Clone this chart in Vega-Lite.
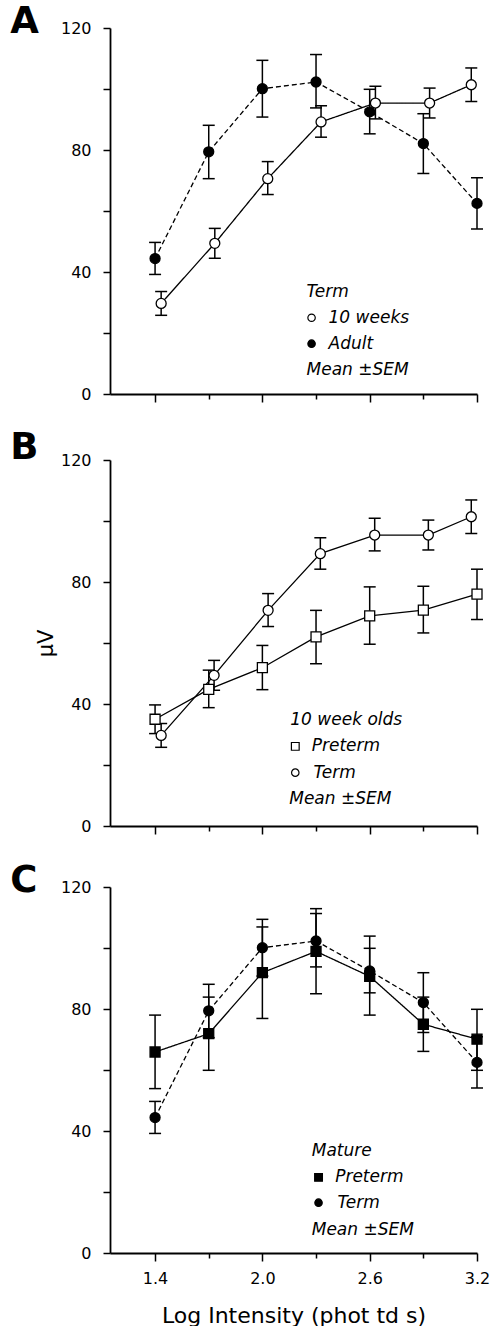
{
  "$schema": "https://vega.github.io/schema/vega-lite/v6.json",
  "background": "white",
  "padding": {"left": 10, "top": 3, "right": 0, "bottom": 0},
  "spacing": 26,
  "datasets": {
    "erg": [
      {"panel": "A", "group": "10 weeks", "x": 1.434, "y": 29.7, "lo": 25.8, "hi": 33.6},
      {"panel": "A", "group": "10 weeks", "x": 1.734, "y": 49.4, "lo": 44.5, "hi": 54.3},
      {"panel": "A", "group": "10 weeks", "x": 2.030, "y": 70.6, "lo": 65.4, "hi": 76.2},
      {"panel": "A", "group": "10 weeks", "x": 2.328, "y": 89.2, "lo": 84.2, "hi": 94.5},
      {"panel": "A", "group": "10 weeks", "x": 2.632, "y": 95.4, "lo": 90.2, "hi": 100.9},
      {"panel": "A", "group": "10 weeks", "x": 2.935, "y": 95.4, "lo": 90.5, "hi": 100.3},
      {"panel": "A", "group": "10 weeks", "x": 3.168, "y": 101.4, "lo": 95.9, "hi": 106.9},
      {"panel": "A", "group": "Adult", "x": 1.4, "y": 44.4, "lo": 39.2, "hi": 49.7},
      {"panel": "A", "group": "Adult", "x": 1.7, "y": 79.4, "lo": 70.6, "hi": 88.1},
      {"panel": "A", "group": "Adult", "x": 2.0, "y": 100.1, "lo": 90.8, "hi": 109.4},
      {"panel": "A", "group": "Adult", "x": 2.3, "y": 102.3, "lo": 93.8, "hi": 111.3},
      {"panel": "A", "group": "Adult", "x": 2.6, "y": 92.5, "lo": 85.3, "hi": 99.9},
      {"panel": "A", "group": "Adult", "x": 2.9, "y": 82.1, "lo": 72.3, "hi": 91.9},
      {"panel": "A", "group": "Adult", "x": 3.2, "y": 62.5, "lo": 54.1, "hi": 70.9},
      {"panel": "B", "group": "Preterm", "x": 1.4, "y": 35.0, "lo": 30.3, "hi": 39.7},
      {"panel": "B", "group": "Preterm", "x": 1.7, "y": 44.8, "lo": 38.8, "hi": 51.1},
      {"panel": "B", "group": "Preterm", "x": 2.0, "y": 51.9, "lo": 44.7, "hi": 59.2},
      {"panel": "B", "group": "Preterm", "x": 2.3, "y": 62.0, "lo": 53.2, "hi": 70.7},
      {"panel": "B", "group": "Preterm", "x": 2.6, "y": 68.9, "lo": 59.6, "hi": 78.4},
      {"panel": "B", "group": "Preterm", "x": 2.9, "y": 70.8, "lo": 63.3, "hi": 78.6},
      {"panel": "B", "group": "Preterm", "x": 3.2, "y": 76.0, "lo": 67.7, "hi": 84.2},
      {"panel": "B", "group": "Term", "x": 1.434, "y": 29.7, "lo": 25.8, "hi": 33.6},
      {"panel": "B", "group": "Term", "x": 1.730, "y": 49.4, "lo": 44.5, "hi": 54.3},
      {"panel": "B", "group": "Term", "x": 2.032, "y": 70.7, "lo": 65.4, "hi": 76.2},
      {"panel": "B", "group": "Term", "x": 2.324, "y": 89.3, "lo": 84.2, "hi": 94.5},
      {"panel": "B", "group": "Term", "x": 2.628, "y": 95.4, "lo": 90.2, "hi": 100.9},
      {"panel": "B", "group": "Term", "x": 2.928, "y": 95.4, "lo": 90.5, "hi": 100.3},
      {"panel": "B", "group": "Term", "x": 3.168, "y": 101.4, "lo": 95.9, "hi": 106.9},
      {"panel": "C", "group": "Preterm", "x": 1.4, "y": 65.9, "lo": 53.9, "hi": 78.0},
      {"panel": "C", "group": "Preterm", "x": 1.7, "y": 71.9, "lo": 59.9, "hi": 83.9},
      {"panel": "C", "group": "Preterm", "x": 2.0, "y": 91.9, "lo": 76.9, "hi": 106.9},
      {"panel": "C", "group": "Preterm", "x": 2.3, "y": 98.9, "lo": 85.0, "hi": 112.9},
      {"panel": "C", "group": "Preterm", "x": 2.6, "y": 90.7, "lo": 78.0, "hi": 103.9},
      {"panel": "C", "group": "Preterm", "x": 2.9, "y": 75.0, "lo": 66.1, "hi": 83.9},
      {"panel": "C", "group": "Preterm", "x": 3.2, "y": 70.1, "lo": 59.9, "hi": 79.9},
      {"panel": "C", "group": "Term", "x": 1.4, "y": 44.4, "lo": 39.2, "hi": 49.7},
      {"panel": "C", "group": "Term", "x": 1.7, "y": 79.4, "lo": 70.6, "hi": 88.1},
      {"panel": "C", "group": "Term", "x": 2.0, "y": 100.1, "lo": 90.8, "hi": 109.4},
      {"panel": "C", "group": "Term", "x": 2.3, "y": 102.3, "lo": 93.8, "hi": 111.3},
      {"panel": "C", "group": "Term", "x": 2.6, "y": 92.5, "lo": 85.3, "hi": 99.9},
      {"panel": "C", "group": "Term", "x": 2.9, "y": 82.1, "lo": 72.3, "hi": 91.9},
      {"panel": "C", "group": "Term", "x": 3.2, "y": 62.5, "lo": 54.1, "hi": 70.9}
    ]
  },
  "vconcat": [
    {
      "width": 367, "height": 366,
      "layer": [
        {"data": {"name": "erg"}, "transform": [{"filter": "datum.panel === 'A'"}],
         "mark": {"type": "rule", "color": "black", "strokeWidth": 1.5},
         "encoding": {
           "x": {"field": "x", "type": "quantitative", "scale": {"domain": [1.148, 3.2], "nice": false, "zero": false},
                 "axis": {"values": [1.4, 1.7, 2.0, 2.3, 2.6, 2.9, 3.2], "labels": false, "title": null, "tickSize": {"condition": {"test": "round((datum.value-1.4)/0.3) % 2 === 0", "value": 8}, "value": 5}}},
           "y": {"field": "lo", "type": "quantitative", "scale": {"domain": [0, 120], "nice": false},
                 "axis": {"values": [0, 20, 40, 60, 80, 100, 120], "labelExpr": "datum.value % 40 === 0 ? datum.label : ''", "tickSize": 7, "labelPadding": 12, "title": null}},
           "y2": {"field": "hi"}
         }},
        {"data": {"name": "erg"}, "transform": [{"filter": "datum.panel === 'A'"}],
         "mark": {"type": "tick", "orient": "horizontal", "size": 12, "thickness": 1.5, "color": "black", "opacity": 1},
         "encoding": {"x": {"field": "x", "type": "quantitative"}, "y": {"field": "lo", "type": "quantitative"}}},
        {"data": {"name": "erg"}, "transform": [{"filter": "datum.panel === 'A'"}],
         "mark": {"type": "tick", "orient": "horizontal", "size": 12, "thickness": 1.5, "color": "black", "opacity": 1},
         "encoding": {"x": {"field": "x", "type": "quantitative"}, "y": {"field": "hi", "type": "quantitative"}}},
        {"data": {"name": "erg"}, "transform": [{"filter": "datum.panel === 'A'"}],
         "mark": {"type": "line", "color": "black", "strokeWidth": 1.3},
         "encoding": {"x": {"field": "x", "type": "quantitative"}, "y": {"field": "y", "type": "quantitative"},
           "strokeDash": {"field": "group", "type": "nominal", "scale": {"domain": ["10 weeks", "Adult"], "range": [[1, 0], [5, 3]]}, "legend": null}}},
        {"data": {"name": "erg"}, "transform": [{"filter": "datum.panel === 'A'"}],
         "mark": {"type": "point", "filled": true, "stroke": "black", "strokeWidth": 1.3, "opacity": 1, "size": 100, "shape": "circle"},
         "encoding": {"x": {"field": "x", "type": "quantitative"}, "y": {"field": "y", "type": "quantitative"},
           "fill": {"field": "group", "type": "nominal", "scale": {"domain": ["10 weeks", "Adult"], "range": ["white", "black"]}, "legend": null}}},
        {"data": {"values": [{"label": "A"}]},
         "mark": {"type": "text", "align": "left", "baseline": "alphabetic", "font": "DejaVu Sans", "fontSize": 37, "fontWeight": "bold", "color": "black"},
         "encoding": {"x": {"datum": 0.59, "type": "quantitative"}, "y": {"datum": 118.36, "type": "quantitative"}, "text": {"field": "label"}}},
        {"data": {"values": [{"label": "Term"}]},
         "mark": {"type": "text", "align": "left", "baseline": "middle", "font": "DejaVu Sans", "fontSize": 17, "fontStyle": "italic", "color": "black"},
         "encoding": {"x": {"datum": 2.247, "type": "quantitative"}, "y": {"datum": 33.4, "type": "quantitative"}, "text": {"field": "label"}}},
        {"data": {"values": [{"label": "10 weeks"}]},
         "mark": {"type": "point", "filled": true, "fill": "white", "stroke": "black", "strokeWidth": 1.2, "opacity": 1, "size": 55, "shape": "circle"},
         "encoding": {"x": {"datum": 2.275, "type": "quantitative"}, "y": {"datum": 25.0, "type": "quantitative"}}},
        {"data": {"values": [{"label": "10 weeks"}]},
         "mark": {"type": "text", "align": "left", "baseline": "middle", "font": "DejaVu Sans", "fontSize": 17, "fontStyle": "italic", "color": "black"},
         "encoding": {"x": {"datum": 2.370, "type": "quantitative"}, "y": {"datum": 25.0, "type": "quantitative"}, "text": {"field": "label"}}},
        {"data": {"values": [{"label": "Adult"}]},
         "mark": {"type": "point", "filled": true, "fill": "black", "stroke": "black", "strokeWidth": 1.2, "opacity": 1, "size": 55, "shape": "circle"},
         "encoding": {"x": {"datum": 2.275, "type": "quantitative"}, "y": {"datum": 16.5, "type": "quantitative"}}},
        {"data": {"values": [{"label": "Adult"}]},
         "mark": {"type": "text", "align": "left", "baseline": "middle", "font": "DejaVu Sans", "fontSize": 17, "fontStyle": "italic", "color": "black"},
         "encoding": {"x": {"datum": 2.370, "type": "quantitative"}, "y": {"datum": 16.5, "type": "quantitative"}, "text": {"field": "label"}}},
        {"data": {"values": [{"label": "Mean ±SEM"}]},
         "mark": {"type": "text", "align": "left", "baseline": "middle", "font": "DejaVu Sans", "fontSize": 17, "fontStyle": "italic", "color": "black"},
         "encoding": {"x": {"datum": 2.247, "type": "quantitative"}, "y": {"datum": 7.9, "type": "quantitative"}, "text": {"field": "label"}}}
      ]
    },
    {
      "width": 367, "height": 366,
      "layer": [
        {"data": {"name": "erg"}, "transform": [{"filter": "datum.panel === 'B'"}],
         "mark": {"type": "rule", "color": "black", "strokeWidth": 1.5},
         "encoding": {
           "x": {"field": "x", "type": "quantitative", "scale": {"domain": [1.148, 3.2], "nice": false, "zero": false},
                 "axis": {"values": [1.4, 1.7, 2.0, 2.3, 2.6, 2.9, 3.2], "labels": false, "title": null, "tickSize": {"condition": {"test": "round((datum.value-1.4)/0.3) % 2 === 0", "value": 8}, "value": 5}}},
           "y": {"field": "lo", "type": "quantitative", "scale": {"domain": [0, 120], "nice": false},
                 "axis": {"values": [0, 20, 40, 60, 80, 100, 120], "labelExpr": "datum.value % 40 === 0 ? datum.label : ''", "tickSize": 7, "labelPadding": 12, "title": "μV", "titleFontSize": 21, "titlePadding": 4}},
           "y2": {"field": "hi"}
         }},
        {"data": {"name": "erg"}, "transform": [{"filter": "datum.panel === 'B'"}],
         "mark": {"type": "tick", "orient": "horizontal", "size": 12, "thickness": 1.5, "color": "black", "opacity": 1},
         "encoding": {"x": {"field": "x", "type": "quantitative"}, "y": {"field": "lo", "type": "quantitative"}}},
        {"data": {"name": "erg"}, "transform": [{"filter": "datum.panel === 'B'"}],
         "mark": {"type": "tick", "orient": "horizontal", "size": 12, "thickness": 1.5, "color": "black", "opacity": 1},
         "encoding": {"x": {"field": "x", "type": "quantitative"}, "y": {"field": "hi", "type": "quantitative"}}},
        {"data": {"name": "erg"}, "transform": [{"filter": "datum.panel === 'B'"}],
         "mark": {"type": "line", "color": "black", "strokeWidth": 1.3},
         "encoding": {"x": {"field": "x", "type": "quantitative"}, "y": {"field": "y", "type": "quantitative"},
           "detail": {"field": "group", "type": "nominal"}}},
        {"data": {"name": "erg"}, "transform": [{"filter": "datum.panel === 'B'"}],
         "mark": {"type": "point", "filled": true, "fill": "white", "stroke": "black", "strokeWidth": 1.3, "opacity": 1, "size": 100},
         "encoding": {"x": {"field": "x", "type": "quantitative"}, "y": {"field": "y", "type": "quantitative"},
           "shape": {"field": "group", "type": "nominal", "scale": {"domain": ["Preterm", "Term"], "range": ["square", "circle"]}, "legend": null}}},
        {"data": {"values": [{"label": "B"}]},
         "mark": {"type": "text", "align": "left", "baseline": "alphabetic", "font": "DejaVu Sans", "fontSize": 37, "fontWeight": "bold", "color": "black"},
         "encoding": {"x": {"datum": 0.59, "type": "quantitative"}, "y": {"datum": 120.2, "type": "quantitative"}, "text": {"field": "label"}}},
        {"data": {"values": [{"label": "10 week olds"}]},
         "mark": {"type": "text", "align": "left", "baseline": "middle", "font": "DejaVu Sans", "fontSize": 17, "fontStyle": "italic", "color": "black"},
         "encoding": {"x": {"datum": 2.156, "type": "quantitative"}, "y": {"datum": 34.7, "type": "quantitative"}, "text": {"field": "label"}}},
        {"data": {"values": [{"label": "Preterm"}]},
         "mark": {"type": "point", "filled": true, "fill": "white", "stroke": "black", "strokeWidth": 1.2, "opacity": 1, "size": 60, "shape": "square"},
         "encoding": {"x": {"datum": 2.184, "type": "quantitative"}, "y": {"datum": 26.1, "type": "quantitative"}}},
        {"data": {"values": [{"label": "Preterm"}]},
         "mark": {"type": "text", "align": "left", "baseline": "middle", "font": "DejaVu Sans", "fontSize": 17, "fontStyle": "italic", "color": "black"},
         "encoding": {"x": {"datum": 2.276, "type": "quantitative"}, "y": {"datum": 26.1, "type": "quantitative"}, "text": {"field": "label"}}},
        {"data": {"values": [{"label": "Term"}]},
         "mark": {"type": "point", "filled": true, "fill": "white", "stroke": "black", "strokeWidth": 1.2, "opacity": 1, "size": 55, "shape": "circle"},
         "encoding": {"x": {"datum": 2.184, "type": "quantitative"}, "y": {"datum": 17.5, "type": "quantitative"}}},
        {"data": {"values": [{"label": "Term"}]},
         "mark": {"type": "text", "align": "left", "baseline": "middle", "font": "DejaVu Sans", "fontSize": 17, "fontStyle": "italic", "color": "black"},
         "encoding": {"x": {"datum": 2.286, "type": "quantitative"}, "y": {"datum": 17.5, "type": "quantitative"}, "text": {"field": "label"}}},
        {"data": {"values": [{"label": "Mean ±SEM"}]},
         "mark": {"type": "text", "align": "left", "baseline": "middle", "font": "DejaVu Sans", "fontSize": 17, "fontStyle": "italic", "color": "black"},
         "encoding": {"x": {"datum": 2.150, "type": "quantitative"}, "y": {"datum": 8.7, "type": "quantitative"}, "text": {"field": "label"}}}
      ]
    },
    {
      "width": 367, "height": 366,
      "layer": [
        {"data": {"name": "erg"}, "transform": [{"filter": "datum.panel === 'C'"}],
         "mark": {"type": "rule", "color": "black", "strokeWidth": 1.5},
         "encoding": {
           "x": {"field": "x", "type": "quantitative", "scale": {"domain": [1.148, 3.2], "nice": false, "zero": false},
                 "axis": {"values": [1.4, 1.7, 2.0, 2.3, 2.6, 2.9, 3.2], "format": ".1f", "labelExpr": "round((datum.value-1.4)/0.3) % 2 === 0 ? datum.label : ''", "labelFlush": false, "labelOverlap": false, "labelPadding": 9, "title": "Log Intensity (phot td s)", "titleFontSize": 22, "titlePadding": 19, "tickSize": {"condition": {"test": "round((datum.value-1.4)/0.3) % 2 === 0", "value": 8}, "value": 5}}},
           "y": {"field": "lo", "type": "quantitative", "scale": {"domain": [0, 120], "nice": false},
                 "axis": {"values": [0, 20, 40, 60, 80, 100, 120], "labelExpr": "datum.value % 40 === 0 ? datum.label : ''", "tickSize": 7, "labelPadding": 12, "title": null}},
           "y2": {"field": "hi"}
         }},
        {"data": {"name": "erg"}, "transform": [{"filter": "datum.panel === 'C'"}],
         "mark": {"type": "tick", "orient": "horizontal", "size": 12, "thickness": 1.5, "color": "black", "opacity": 1},
         "encoding": {"x": {"field": "x", "type": "quantitative"}, "y": {"field": "lo", "type": "quantitative"}}},
        {"data": {"name": "erg"}, "transform": [{"filter": "datum.panel === 'C'"}],
         "mark": {"type": "tick", "orient": "horizontal", "size": 12, "thickness": 1.5, "color": "black", "opacity": 1},
         "encoding": {"x": {"field": "x", "type": "quantitative"}, "y": {"field": "hi", "type": "quantitative"}}},
        {"data": {"name": "erg"}, "transform": [{"filter": "datum.panel === 'C'"}],
         "mark": {"type": "line", "color": "black", "strokeWidth": 1.3},
         "encoding": {"x": {"field": "x", "type": "quantitative"}, "y": {"field": "y", "type": "quantitative"},
           "strokeDash": {"field": "group", "type": "nominal", "scale": {"domain": ["Preterm", "Term"], "range": [[1, 0], [5, 3]]}, "legend": null}}},
        {"data": {"name": "erg"}, "transform": [{"filter": "datum.panel === 'C'"}],
         "mark": {"type": "point", "filled": true, "fill": "black", "stroke": "black", "strokeWidth": 1.3, "opacity": 1, "size": 100},
         "encoding": {"x": {"field": "x", "type": "quantitative"}, "y": {"field": "y", "type": "quantitative"},
           "shape": {"field": "group", "type": "nominal", "scale": {"domain": ["Preterm", "Term"], "range": ["square", "circle"]}, "legend": null}}},
        {"data": {"values": [{"label": "C"}]},
         "mark": {"type": "text", "align": "left", "baseline": "alphabetic", "font": "DejaVu Sans", "fontSize": 37, "fontWeight": "bold", "color": "black"},
         "encoding": {"x": {"datum": 0.59, "type": "quantitative"}, "y": {"datum": 118.5, "type": "quantitative"}, "text": {"field": "label"}}},
        {"data": {"values": [{"label": "Mature"}]},
         "mark": {"type": "text", "align": "left", "baseline": "middle", "font": "DejaVu Sans", "fontSize": 17, "fontStyle": "italic", "color": "black"},
         "encoding": {"x": {"datum": 2.276, "type": "quantitative"}, "y": {"datum": 33.6, "type": "quantitative"}, "text": {"field": "label"}}},
        {"data": {"values": [{"label": "Preterm"}]},
         "mark": {"type": "point", "filled": true, "fill": "black", "stroke": "black", "strokeWidth": 1.2, "opacity": 1, "size": 60, "shape": "square"},
         "encoding": {"x": {"datum": 2.314, "type": "quantitative"}, "y": {"datum": 24.8, "type": "quantitative"}}},
        {"data": {"values": [{"label": "Preterm"}]},
         "mark": {"type": "text", "align": "left", "baseline": "middle", "font": "DejaVu Sans", "fontSize": 17, "fontStyle": "italic", "color": "black"},
         "encoding": {"x": {"datum": 2.407, "type": "quantitative"}, "y": {"datum": 24.8, "type": "quantitative"}, "text": {"field": "label"}}},
        {"data": {"values": [{"label": "Term"}]},
         "mark": {"type": "point", "filled": true, "fill": "black", "stroke": "black", "strokeWidth": 1.2, "opacity": 1, "size": 55, "shape": "circle"},
         "encoding": {"x": {"datum": 2.314, "type": "quantitative"}, "y": {"datum": 16.5, "type": "quantitative"}}},
        {"data": {"values": [{"label": "Term"}]},
         "mark": {"type": "text", "align": "left", "baseline": "middle", "font": "DejaVu Sans", "fontSize": 17, "fontStyle": "italic", "color": "black"},
         "encoding": {"x": {"datum": 2.420, "type": "quantitative"}, "y": {"datum": 16.5, "type": "quantitative"}, "text": {"field": "label"}}},
        {"data": {"values": [{"label": "Mean ±SEM"}]},
         "mark": {"type": "text", "align": "left", "baseline": "middle", "font": "DejaVu Sans", "fontSize": 17, "fontStyle": "italic", "color": "black"},
         "encoding": {"x": {"datum": 2.276, "type": "quantitative"}, "y": {"datum": 7.6, "type": "quantitative"}, "text": {"field": "label"}}}
      ]
    }
  ],
  "resolve": {"scale": {"shape": "independent", "fill": "independent", "strokeDash": "independent"}},
  "config": {
    "view": {"stroke": null},
    "font": "DejaVu Sans",
    "axis": {"grid": false, "domainColor": "black", "domainWidth": 1.8, "tickColor": "black", "tickWidth": 1.5, "labelColor": "black", "labelFont": "DejaVu Sans", "labelFontSize": 16, "titleColor": "black", "titleFont": "DejaVu Sans", "titleFontWeight": "normal"}
  }
}
